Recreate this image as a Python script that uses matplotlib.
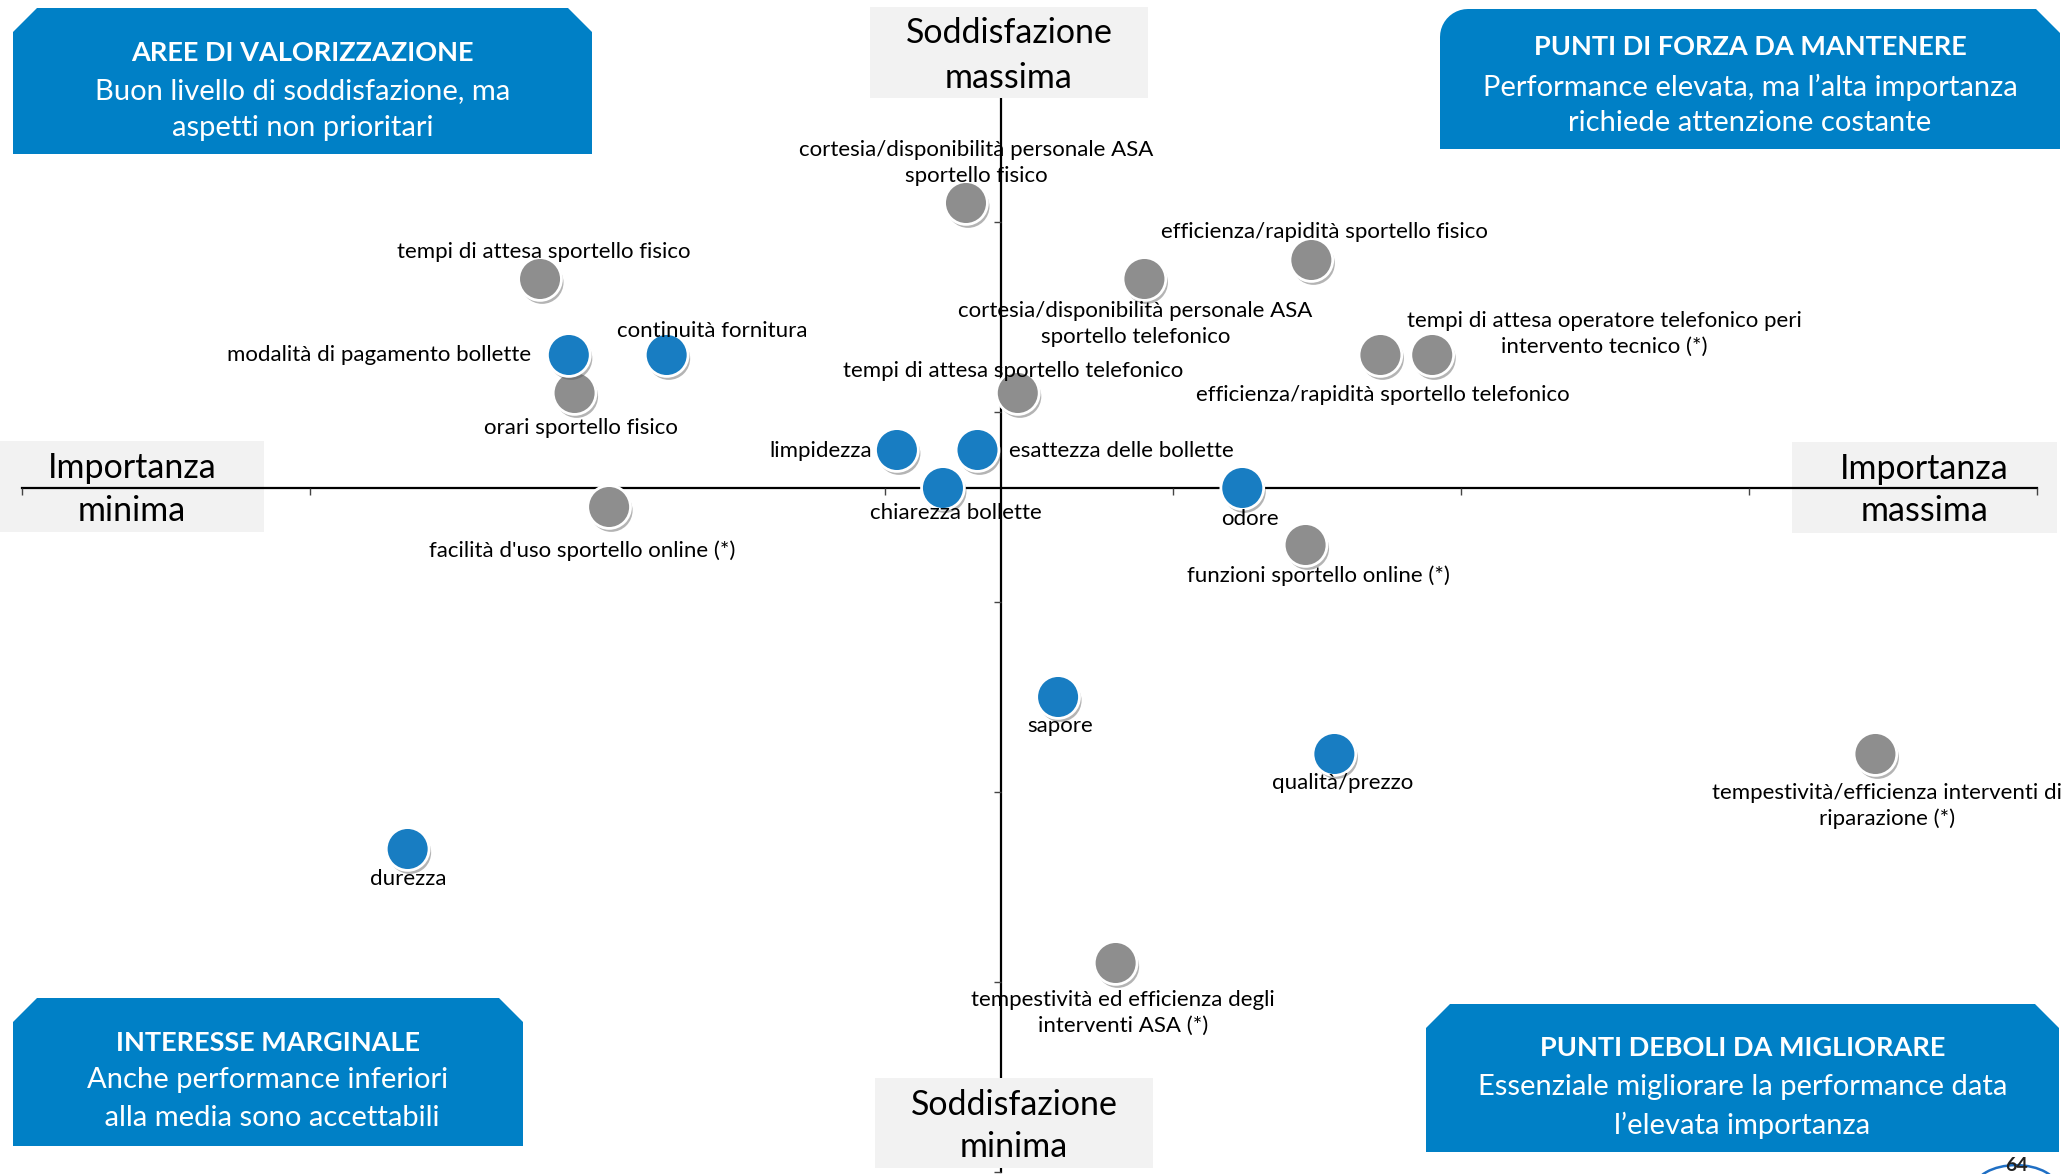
import matplotlib.pyplot as plt
import matplotlib.patheffects as pe
import numpy as np
from matplotlib.patches import Polygon, Rectangle, Circle

plt.rcParams['font.family'] = ['Lato', 'DejaVu Sans']

# Dati: importanza (x) e soddisfazione (y) per ciascun aspetto
aspetti = [
    "cortesia/disponibilità personale ASA\nsportello fisico",
    "efficienza/rapidità sportello fisico",
    "cortesia/disponibilità personale ASA\nsportello telefonico",
    "tempi di attesa sportello fisico",
    "modalità di pagamento bollette",
    "continuità fornitura",
    "orari sportello fisico",
    "facilità d'uso sportello online (*)",
    "tempi di attesa sportello telefonico",
    "limpidezza",
    "esattezza delle bollette",
    "chiarezza bollette",
    "odore",
    "funzioni sportello online (*)",
    "efficienza/rapidità sportello telefonico",
    "tempi di attesa operatore telefonico peri\nintervento tecnico (*)",
    "sapore",
    "qualità/prezzo",
    "durezza",
    "tempestività ed efficienza degli\ninterventi ASA (*)",
    "tempestività/efficienza interventi di\nriparazione (*)",
]
importanza = [8.14, 8.74, 8.45, 7.40, 7.45, 7.62, 7.46, 7.52, 8.23, 8.02, 8.16,
              8.10, 8.62, 8.73, 8.86, 8.95, 8.30, 8.78, 7.17, 8.40, 9.72]
soddisfazione = [8.55, 8.40, 8.35, 8.35, 8.15, 8.15, 8.05, 7.75, 8.05, 7.90, 7.90,
                 7.80, 7.80, 7.65, 8.15, 8.15, 7.25, 7.10, 6.85, 6.55, 7.10]
gruppo = ["servizio", "servizio", "servizio", "servizio", "acqua", "acqua", "servizio",
          "servizio", "servizio", "acqua", "acqua", "acqua", "acqua", "servizio",
          "servizio", "servizio", "acqua", "acqua", "acqua", "servizio", "servizio"]

media_importanza = 8.20
media_soddisfazione = 7.80
x_ticks = np.arange(6.5, 10.01, 0.5)
y_ticks = np.arange(6.0, 9.01, 0.5)

# posizione delle etichette rispetto al punto (pixel) e allineamento
label_offset = [(10, 40), (13, 28), (-9, -45), (4, 27), (-38, 0), (46, 24), (6, -35),
                (-27, -44), (-5, 22), (-25, -1), (32, -1), (13, -25), (8, -31), (13, -31),
                (2, -40), (172, 21), (2, -29), (8, -29), (1, -30), (7, -50), (12, -52)]
label_ha = ["center"] * len(aspetti)
label_ha[4] = "right"
label_ha[9] = "right"
label_ha[10] = "left"

colori = {"acqua": "#187dc2", "servizio": "#8e8e8e"}
box_blue = "#0080c6"
box_grey = "#f2f2f2"

W, H = 2067, 1174
fig = plt.figure(figsize=(W / 100, H / 100), dpi=100)
ax = fig.add_axes([0, 0, 1, 1])

# limiti scelti in modo che il grafico occupi tutta la pagina
ax.set_xlim(6.5 - 22 / 575.6, 6.5 + 2045 / 575.6)
ax.set_ylim(9.0 - 1142 / 380, 9.0 + 32 / 380)


def fx(px):
    return px / W


def fy(py):
    return 1 - py / H


# assi incrociati sulle medie
for side in ["top", "right"]:
    ax.spines[side].set_visible(False)
ax.spines["bottom"].set_position(("data", media_soddisfazione))
ax.spines["left"].set_position(("data", media_importanza))
ax.spines["bottom"].set_bounds(x_ticks[0], x_ticks[-1])
ax.spines["left"].set_bounds(y_ticks[0], y_ticks[-1])
ax.spines["bottom"].set_linewidth(1.6)
ax.spines["left"].set_linewidth(1.6)
ax.spines["bottom"].set_zorder(4)
ax.spines["left"].set_zorder(1)
ax.set_xticks(x_ticks)
ax.set_yticks(y_ticks)
ax.tick_params(axis="both", direction="out", length=5, width=1, color="#444444",
               labelbottom=False, labelleft=False)
ax.xaxis.set_zorder(4)
ax.patch.set_alpha(0)

# riquadri grigi con le etichette degli assi
grey_boxes = [
    ("Soddisfazione", "massima", 870, 7, 1148, 98, 33, 78),
    ("Soddisfazione", "minima", 875, 1078, 1153, 1168, 1105, 1147),
    ("Importanza", "minima", 0, 441, 264, 532, 468, 511),
    ("Importanza", "massima", 1792, 442, 2057, 533, 469, 511),
]
for t1, t2, x0, y0, x1, y1, ya, yb in grey_boxes:
    ax.add_patch(Rectangle((fx(x0), fy(y1)), fx(x1) - fx(x0), fy(y0) - fy(y1),
                           transform=ax.transAxes, facecolor=box_grey,
                           edgecolor="none", zorder=3))
    xc = fx((x0 + x1) / 2)
    ax.text(xc, fy(ya), t1, transform=ax.transAxes, ha="center", va="center",
            fontsize=24.5, color="black", zorder=5)
    ax.text(xc, fy(yb), t2, transform=ax.transAxes, ha="center", va="center",
            fontsize=24.5, color="black", zorder=5)


def blue_box(x0, y0, x1, y1, c=24, round_left=False):
    if round_left:
        ang = np.linspace(np.pi, np.pi / 2, 12)
        r = 28
        left = [(x0 + r + r * np.cos(a), y0 + r - r * np.sin(a)) for a in ang]
    else:
        left = [(x0, y0 + c), (x0 + c, y0)]
    pts = [(x0, y1)] + left + [(x1 - c, y0), (x1, y0 + c), (x1, y1)]
    pts = [(fx(px), fy(py)) for px, py in pts]
    ax.add_patch(Polygon(pts, closed=True, transform=ax.transAxes,
                         facecolor=box_blue, edgecolor="none", zorder=3))


quadranti = [
    ("AREE DI VALORIZZAZIONE", "Buon livello di soddisfazione, ma", "aspetti non prioritari",
     13, 8, 592, 154, 53, 91, 128, False),
    ("PUNTI DI FORZA DA MANTENERE", "Performance elevata, ma l’alta importanza",
     "richiede attenzione costante", 1440, 9, 2060, 149, 47, 87, 123, True),
    ("INTERESSE MARGINALE", "Anche performance inferiori", " alla media sono accettabili",
     13, 998, 523, 1146, 1043, 1080, 1118, False),
    ("PUNTI DEBOLI DA MIGLIORARE", "Essenziale migliorare la performance data",
     "l’elevata importanza", 1426, 1004, 2059, 1152, 1048, 1087, 1125, False),
]
for tit, r1, r2, x0, y0, x1, y1, yt, ya, yb, rl in quadranti:
    blue_box(x0, y0, x1, y1, round_left=rl)
    xc = fx((x0 + x1) / 2)
    ax.text(xc, fy(yt), tit, transform=ax.transAxes, ha="center", va="center",
            fontsize=19.5, fontweight="bold", color="white", zorder=5)
    ax.text(xc, fy(ya), r1, transform=ax.transAxes, ha="center", va="center",
            fontsize=21, color="white", zorder=5)
    ax.text(xc, fy(yb), r2, transform=ax.transAxes, ha="center", va="center",
            fontsize=21, color="white", zorder=5)

# punti
shadow = [pe.SimplePatchShadow(offset=(1.5, -2.5), shadow_rgbFace="0.35", alpha=0.45),
          pe.Normal()]
for g in ["servizio", "acqua"]:
    idx = [i for i, gg in enumerate(gruppo) if gg == g]
    sc = ax.scatter([importanza[i] for i in idx], [soddisfazione[i] for i in idx],
                    s=950, color=colori[g], edgecolors="white", linewidths=2,
                    zorder=6, clip_on=False)
    sc.set_path_effects(shadow)

for i, nome in enumerate(aspetti):
    ax.annotate(nome, (importanza[i], soddisfazione[i]), xytext=label_offset[i],
                textcoords="offset pixels", ha=label_ha[i], va="center",
                multialignment="center", fontsize=16, color="black",
                linespacing=1.32, zorder=7, annotation_clip=False)

# numero di pagina
ax.add_patch(Circle((fx(2016), fy(1189)), 42 / W, transform=ax.transAxes,
                    facecolor="white", edgecolor="#1f6fc4", linewidth=1.8,
                    zorder=3, clip_on=False))
ax.text(fx(2016), fy(1171), "64", transform=ax.transAxes, ha="center", va="baseline",
        fontsize=14, fontweight="bold", color="#222222", zorder=4)

fig.savefig("out.png", dpi=100)
